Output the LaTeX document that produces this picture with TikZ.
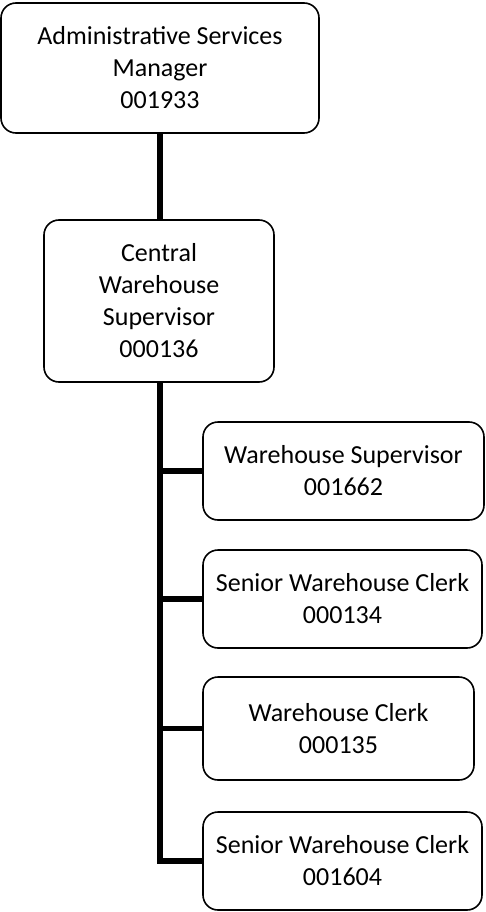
\documentclass[tikz,border=0pt]{standalone}
\usepackage{fontspec}
\setmainfont{Carlito}
\begin{document}
\begin{tikzpicture}[x=1pt,y=-1pt,
  box/.style={draw=black,line width=1.6pt,rounded corners=15pt,fill=white,align=center,inner sep=0pt,
    font=\fontsize{26}{32}\selectfont},
  conn/.style={line width=5.5pt,line join=miter,line cap=butt}]
\useasboundingbox (0,0) rectangle (485,912);
\node[box,minimum width=318pt,minimum height=130pt] (top) at (160,68) {Administrative Services\\Manager\\001933};
\node[box,minimum width=230pt,minimum height=162pt] (cen) at (159,301) {Central\\Warehouse\\Supervisor\\000136};
\node[box,minimum width=281pt,minimum height=98pt] (b1) at (343.5,471) {Warehouse Supervisor\\001662};
\node[box,minimum width=279pt,minimum height=98pt] (b2) at (342.5,599) {Senior Warehouse Clerk\\000134};
\node[box,minimum width=271pt,minimum height=103pt] (b3) at (338.5,728.5) {Warehouse Clerk\\000135};
\node[box,minimum width=279pt,minimum height=98pt] (b4) at (342.5,861) {Senior Warehouse Clerk\\001604};
\coordinate (tk) at (160,0);
\draw[conn] (top.south -| tk) -- (cen.north -| tk);
\draw[conn] (cen.south -| tk) |- (b4.west);
\draw[conn] (b1.west -| tk) -- (b1.west);
\draw[conn] (b2.west -| tk) -- (b2.west);
\draw[conn] (b3.west -| tk) -- (b3.west);
\end{tikzpicture}
\end{document}
